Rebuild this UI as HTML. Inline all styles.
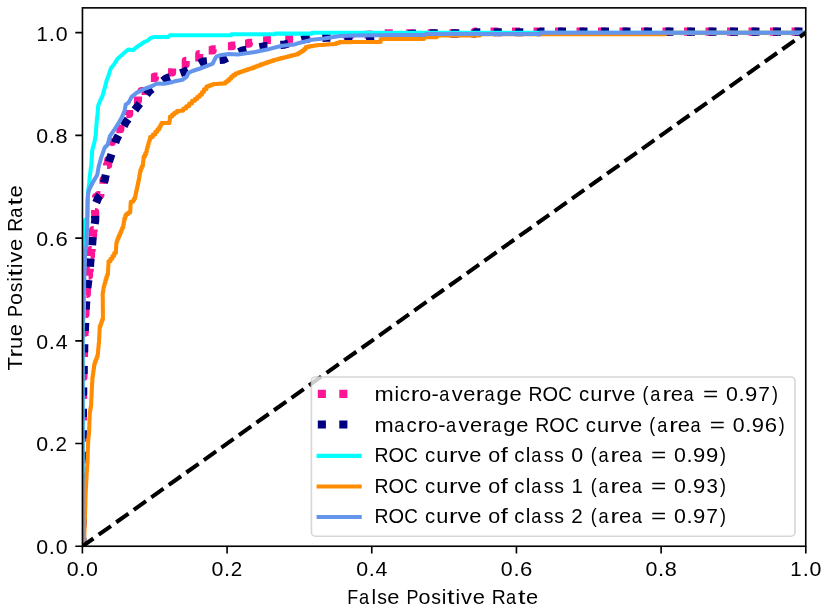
<!DOCTYPE html>
<html><head><meta charset="utf-8"><style>
html,body{margin:0;padding:0;background:#fff;width:827px;height:610px;overflow:hidden}
svg{display:block;will-change:transform;filter:blur(0.3px)}
text{font-family:"Liberation Sans", sans-serif;fill:#000}
</style></head><body>
<svg width="827" height="610" viewBox="0 0 827 610">
<rect width="827" height="610" fill="#fff"/>
<defs><clipPath id="ax"><rect x="82.45" y="7.87" width="723.30" height="538.38"/></clipPath></defs>
<g clip-path="url(#ax)" fill="none" stroke-linejoin="round">

<path d="M82.4,546.3 L82.4,540.8 M82.5,527.5 L82.5,526.5 L82.5,526.5 L82.5,519.8 L82.5,519.8 L82.5,519.5 M82.6,506.1 L82.6,500.0 L82.6,500.0 L82.6,498.0 M82.7,484.7 L82.7,480.0 L82.7,480.0 L82.7,476.6 M82.7,463.3 L82.7,460.0 L82.8,460.0 L82.8,455.2 M82.8,441.8 L82.8,440.0 L82.8,440.0 L82.8,433.8 M82.9,420.4 L82.9,420.0 L82.9,420.0 L82.9,414.0 L83.0,414.0 L83.0,412.4 M83.1,399.1 L83.1,396.0 L83.1,396.0 L83.1,391.1 M83.4,377.9 L83.4,377.1 L83.5,377.1 L83.5,370.7 L83.7,370.7 L83.7,370.1 M84.0,357.0 L84.0,351.4 L84.1,351.4 L84.1,349.1 M84.5,336.1 L84.5,332.7 L84.8,332.7 L84.8,328.2 M85.3,315.3 L85.3,314.2 L85.5,314.2 L85.5,308.0 L85.8,308.0 L85.8,307.7 M86.3,294.9 L86.3,294.0 L86.9,294.0 L86.9,287.3 M88.6,275.7 L89.0,275.7 L89.0,270.0 L89.8,270.0 L89.8,268.7 M90.5,256.0 L91.0,256.0 L91.0,250.0 L91.7,250.0 L91.7,249.1 M92.4,236.4 L92.4,235.5 L93.1,235.5 L93.1,230.0 L93.7,230.0 L93.7,229.6 M95.3,217.8 L95.3,216.0 L95.2,216.0 L95.2,212.0 L95.0,212.0 L95.0,210.0 M96.0,197.6 L96.0,197.0 L98.5,197.0 L98.5,195.0 L100.4,195.0 L100.4,193.9 M103.5,183.7 L103.5,180.0 L104.6,180.0 L104.6,176.6 M107.0,165.6 L107.0,165.0 L108.2,165.0 L108.2,160.0 L109.5,160.0 M111.1,145.4 L111.1,142.1 L111.9,142.1 L111.9,138.0 M116.3,129.2 L120.4,129.2 L120.4,125.1 M126.3,115.1 L126.3,114.0 L129.2,114.0 L129.2,109.9 M133.9,100.5 L138.0,100.5 L138.0,96.4 M141.5,91.5 L141.5,91.0 L145.0,91.0 L145.0,87.0 M150.9,77.9 L154.9,77.9 L154.9,76.5 L157.5,76.5 M168.1,72.4 L172.1,72.4 L172.1,68.4 M181.7,64.3 L185.7,64.3 L185.7,60.9 L186.3,60.9 M195.2,57.5 L199.2,57.5 L199.2,54.0 L199.7,54.0 M208.7,50.4 L212.7,50.4 L212.7,49.3 L215.7,49.3 M227.9,46.2 L231.9,46.2 L231.9,45.5 L235.3,45.5 M245.0,43.6 L249.0,43.6 L249.0,42.8 L252.2,42.8 M263.1,40.3 L267.1,40.3 L267.1,40.0 L270.9,40.0 M285.2,39.1 L289.3,39.1 L289.3,38.8 L293.1,38.8 M302.5,37.8 L306.5,37.8 L306.5,37.1 L309.9,37.1 M323.0,36.2 L326.2,36.2 L326.2,35.8 L330.8,35.8 M343.5,35.2 L345.0,35.2 L345.0,35.1 L351.0,35.1 L351.0,35.0 L351.4,35.0 M364.6,34.7 L369.0,34.7 L369.0,34.6 L372.5,34.6 M384.7,33.4 L386.0,33.4 L386.0,33.4 L392.8,33.4 L392.8,33.4 L392.8,33.4 M406.2,33.4 L406.5,33.4 L406.5,33.4 L413.4,33.4 L413.4,33.4 L414.3,33.4 M427.7,33.4 L433.9,33.4 L433.9,33.4 L435.8,33.4 M449.3,33.4 L454.5,33.4 L454.5,33.4 L457.4,33.4 M470.8,33.4 L475.0,33.4 L475.0,31.6 L476.0,31.6 L476.0,31.6 L477.0,31.6 M490.5,31.6 L496.6,31.6 L496.6,31.6 L498.5,31.6 M512.0,31.6 L517.2,31.6 L517.2,31.6 L520.0,31.6 M533.5,31.6 L537.9,31.6 L537.9,31.6 L541.5,31.6 M555.0,31.6 L558.5,31.6 L558.5,31.6 L563.0,31.6 M576.5,31.6 L579.1,31.6 L579.1,31.6 L584.5,31.6 M598.0,31.6 L599.8,31.6 L599.8,31.6 L606.0,31.6 M619.5,31.6 L620.4,31.6 L620.4,31.6 L627.2,31.6 L627.2,31.6 L627.5,31.6 M641.0,31.6 L641.0,31.6 L641.0,31.6 L647.9,31.6 L647.9,31.6 L649.0,31.6 M662.5,31.6 L668.5,31.6 L668.5,31.6 L670.5,31.6 M684.0,31.6 L689.1,31.6 L689.1,31.6 L692.0,31.6 M705.5,31.6 L709.8,31.6 L709.8,31.6 L713.5,31.6 M727.0,31.6 L730.4,31.6 L730.4,31.6 L735.0,31.6 M748.5,31.6 L751.0,31.6 L751.0,31.6 L756.5,31.6 M770.0,31.6 L771.6,31.6 L771.6,31.6 L778.0,31.6 M791.5,31.6 L792.2,31.6 L792.2,31.6 L799.1,31.6 L799.1,31.6 L799.5,31.6" stroke="#ff1493" stroke-width="8.1" stroke-linecap="butt" fill="none"/>
<path d="M82.4,545.9 L82.4,537.8 M82.5,524.4 L82.5,516.3 M82.6,502.9 L82.6,500.0 L82.6,494.8 M82.7,481.4 L82.7,473.3 M82.8,459.9 L82.8,451.8 M82.8,438.4 L82.9,430.3 M82.9,416.9 L83.0,408.8 M83.1,395.4 L83.2,390.0 L83.3,387.3 M83.6,373.9 L83.8,365.8 M84.1,352.4 L84.3,345.0 L84.3,344.3 M84.9,330.9 L85.2,322.8 M85.7,309.4 L85.8,308.0 L86.3,301.3 M87.4,288.0 L87.5,287.0 L88.4,280.0 M90.0,266.7 L90.3,262.0 L90.7,258.6 M92.1,245.3 L92.4,241.0 L92.8,237.2 M94.7,223.9 L95.3,220.0 L95.1,215.9 M96.2,202.6 L98.5,197.0 L99.9,195.5 M103.9,182.8 L104.6,180.0 L105.8,174.9 M109.0,161.9 L109.5,160.0 L111.5,154.2 M115.3,142.8 L116.6,139.0 L118.5,135.4 M123.8,126.0 L125.7,122.4 L128.1,119.1 M134.9,110.0 L137.3,106.7 L139.8,103.5 M146.5,94.6 L149.3,91.0 L152.2,88.9 M162.8,80.9 L166.0,78.5 L169.8,77.1 M180.5,73.2 L184.3,71.8 L187.9,69.9 M199.4,63.5 L203.0,61.6 L207.0,61.2 M219.6,60.0 L223.6,59.6 L227.2,57.8 M238.9,52.2 L242.5,50.4 L246.5,49.6 M259.5,47.2 L263.5,46.4 L267.5,46.1 M280.4,44.9 L284.4,44.6 L288.3,43.5 M301.6,39.9 L305.5,38.8 L309.5,38.6 M322.4,37.9 L326.4,37.7 L330.4,37.7 M344.4,37.5 L348.4,37.5 L352.4,37.5 M366.1,37.5 L370.1,37.5 L374.1,37.1 M386.8,35.8 L394.8,35.0 M408.2,34.1 L416.3,33.6 M429.7,33.4 L437.8,33.4 M451.2,33.4 L459.3,33.4 M472.7,33.4 L475.0,33.4 L476.0,32.3 L480.3,32.3 M493.7,32.3 L501.8,32.3 M515.2,32.3 L523.3,32.3 M536.7,32.3 L540.0,32.3 L541.0,31.6 L544.5,31.6 M558.0,31.6 L566.0,31.6 M579.5,31.6 L587.5,31.6 M601.0,31.6 L609.0,31.6 M622.5,31.6 L630.5,31.6 M644.0,31.6 L652.0,31.6 M665.5,31.6 L673.5,31.6 M687.0,31.6 L695.0,31.6 M708.5,31.6 L716.5,31.6 M730.0,31.6 L738.0,31.6 M751.5,31.6 L759.5,31.6 M773.0,31.6 L781.0,31.6 M794.5,31.6 L802.5,31.6" stroke="#000080" stroke-width="8.1" stroke-linecap="butt" fill="none"/>
<polyline points="82.4,546.3 82.6,540.0 82.6,330.0 83.8,312.0 84.0,300.0 84.2,250.0 84.4,221.0 87.4,217.5 87.7,200.0 88.3,190.0 89.1,183.9 89.8,176.3 91.3,164.5 92.3,149.8 94.3,142.9 95.7,135.0 96.7,121.3 97.7,112.5 98.2,105.6 100.2,100.7 102.5,96.0 104.9,87.4 106.8,80.0 108.4,75.9 110.2,70.0 111.2,67.9 114.0,64.5 117.5,58.7 121.3,55.5 126.3,51.1 128.2,49.6 133.1,50.1 136.1,47.5 141.0,44.2 144.4,41.8 147.4,40.8 150.9,37.9 154.5,36.9 168.3,36.9 169.8,35.3 231.0,35.3 231.5,34.2 275.0,34.2 275.5,33.6 311.5,33.6 312.0,32.8 806.0,32.8" stroke="#00ffff" stroke-width="4.05" stroke-linecap="square"/>
<polyline points="82.4,546.3 82.4,544.2 83.0,544.2 83.0,542.1 83.6,542.1 83.6,540.0 84.2,540.0 84.2,537.3 84.3,537.3 84.3,534.6 84.4,534.6 84.4,531.9 84.5,531.9 84.5,529.2 84.6,529.2 84.6,526.4 84.6,526.4 84.6,523.7 84.7,523.7 84.7,521.0 84.8,521.0 84.8,518.3 84.9,518.3 84.9,515.6 85.0,515.6 85.0,512.9 85.1,512.9 85.1,510.1 85.2,510.1 85.2,507.4 85.3,507.4 85.3,504.7 85.4,504.7 85.4,501.9 85.4,501.9 85.4,499.2 85.5,499.2 85.5,496.5 85.6,496.5 85.6,493.7 85.7,493.7 85.7,491.0 85.8,491.0 85.8,488.3 86.0,488.3 86.0,485.5 86.1,485.5 86.1,482.8 86.3,482.8 86.3,480.1 86.4,480.1 86.4,477.3 86.6,477.3 86.6,474.6 86.7,474.6 86.7,471.7 86.9,471.7 86.9,468.8 87.1,468.8 87.1,465.9 87.3,465.9 87.3,463.0 87.5,463.0 87.5,460.4 87.6,460.4 87.6,457.8 87.7,457.8 87.7,455.2 87.7,455.2 87.7,452.6 87.8,452.6 87.8,450.0 87.9,450.0 87.9,447.7 88.0,447.7 88.0,445.5 88.1,445.5 88.1,443.2 88.2,443.2 88.2,440.6 88.4,440.6 88.4,437.9 88.6,437.9 88.6,435.3 88.9,435.3 88.9,432.7 89.1,432.7 89.1,430.1 89.2,430.1 89.2,427.4 89.3,427.4 89.3,424.8 89.4,424.8 89.4,422.2 89.5,422.2 89.5,419.6 89.6,419.6 89.6,416.9 89.7,416.9 89.7,414.3 89.8,414.3 89.8,411.7 90.2,411.7 90.2,409.1 90.7,409.1 90.7,406.5 91.1,406.5 91.1,403.9 91.2,403.9 91.2,401.2 91.3,401.2 91.3,398.6 91.5,398.6 91.5,396.0 91.6,396.0 91.6,393.3 91.7,393.3 91.7,390.7 91.8,390.7 91.8,388.1 92.0,388.1 92.0,385.4 92.1,385.4 92.1,382.8 92.3,382.8 92.3,380.2 92.4,380.2 92.4,377.3 92.8,377.3 92.8,374.4 93.2,374.4 93.2,371.4 93.6,371.4 93.6,368.5 94.0,368.5 94.0,365.6 94.4,365.6 94.4,363.3 95.2,363.3 95.2,361.0 96.1,361.0 96.1,358.7 96.9,358.7 96.9,356.4 97.7,356.4 97.7,353.8 98.0,353.8 98.0,351.2 98.2,351.2 98.2,348.5 98.5,348.5 98.5,345.9 98.7,345.9 98.7,343.3 99.0,343.3 99.0,340.4 99.1,340.4 99.1,337.5 99.3,337.5 99.3,334.7 99.4,334.7 99.4,331.8 99.6,331.8 99.6,328.9 99.7,328.9 99.7,326.6 100.5,326.6 100.5,324.3 101.3,324.3 101.3,322.0 102.1,322.0 102.1,319.7 102.9,319.7 102.9,316.9 102.9,316.9 102.9,314.1 102.9,314.1 102.9,311.3 102.9,311.3 102.9,308.4 102.8,308.4 102.8,305.6 102.8,305.6 102.8,302.8 102.8,302.8 102.8,300.0 102.8,300.0 102.8,298.1 102.7,298.1 102.7,296.1 102.6,296.1 102.6,293.8 102.9,293.8 102.9,291.5 103.3,291.5 103.3,289.2 103.6,289.2 103.6,286.9 104.2,286.9 104.2,284.7 104.9,284.7 104.9,282.4 105.5,282.4 105.5,279.8 106.3,279.8 106.3,277.1 107.2,277.1 107.2,274.5 108.0,274.5 108.0,271.8 108.1,271.8 108.1,269.1 108.2,269.1 108.2,266.4 108.4,266.4 108.4,263.7 108.5,263.7 108.5,261.2 110.5,261.2 110.5,258.8 112.4,258.8 112.4,255.9 114.2,255.9 114.2,252.9 115.9,252.9 115.9,250.3 116.0,250.3 116.0,247.6 116.2,247.6 116.2,245.0 116.3,245.0 116.3,243.1 116.8,243.1 116.8,241.2 117.4,241.2 117.4,238.9 118.4,238.9 118.4,236.6 119.4,236.6 119.4,234.3 120.4,234.3 120.4,232.0 121.4,232.0 121.4,229.7 122.3,229.7 122.3,227.4 123.3,227.4 123.3,224.4 123.8,224.4 123.8,221.5 124.3,221.5 124.3,218.6 125.3,218.6 125.3,215.6 126.3,215.6 126.3,214.1 128.2,214.1 128.2,212.6 130.2,212.6 130.2,210.0 130.4,210.0 130.4,207.4 130.5,207.4 130.5,204.8 130.7,204.8 130.7,201.8 133.1,201.8 133.1,200.2 134.1,200.2 134.1,198.6 135.1,198.6 135.1,196.3 135.6,196.3 135.6,194.0 136.0,194.0 136.0,191.8 136.5,191.8 136.5,189.5 137.0,189.5 137.0,187.2 137.5,187.2 137.5,184.9 138.0,184.9 138.0,182.6 138.5,182.6 138.5,180.3 139.0,180.3 139.0,177.7 139.4,177.7 139.4,175.0 139.9,175.0 139.9,172.4 140.3,172.4 140.3,170.2 141.2,170.2 141.2,168.1 142.0,168.1 142.0,165.9 142.9,165.9 142.9,163.7 143.1,163.7 143.1,161.5 143.4,161.5 143.4,159.3 143.6,159.3 143.6,156.7 144.9,156.7 144.9,154.1 146.2,154.1 146.2,151.5 146.9,151.5 146.9,148.8 147.5,148.8 147.5,146.2 148.2,146.2 148.2,144.0 148.8,144.0 148.8,141.9 149.5,141.9 149.5,139.7 150.1,139.7 150.1,137.1 152.8,137.1 152.8,134.4 155.4,134.4 155.4,131.8 157.4,131.8 157.4,129.2 159.3,129.2 159.3,127.1 160.4,127.1 160.4,125.0 161.5,125.0 161.5,122.9 162.6,122.9 162.6,122.9 164.9,122.9 164.9,122.9 167.2,122.9 167.2,122.9 169.5,122.9 169.5,120.7 169.8,120.7 169.8,118.5 170.0,118.5 170.0,116.5 172.2,116.5 172.2,114.5 174.4,114.5 174.4,112.8 176.9,112.8 176.9,111.1 179.4,111.1 179.4,110.8 181.4,110.8 181.4,110.6 183.3,110.6 183.3,108.4 186.2,108.4 186.2,106.2 189.2,106.2 189.2,103.5 192.1,103.5 192.1,100.7 195.1,100.7 195.1,98.7 197.4,98.7 197.4,96.8 199.7,96.8 199.7,94.8 202.0,94.8 202.0,91.9 204.0,91.9 204.0,89.2 206.4,89.2 206.4,86.4 208.8,86.4 208.8,85.6 211.1,85.6 211.1,84.8 213.3,84.8 213.3,84.0 215.6,84.0 215.6,83.9 218.0,83.9 218.0,83.8 220.5,83.8 220.5,83.6 222.9,83.6 222.9,83.5 225.3,83.5 225.3,82.0 227.2,82.0 227.2,80.6 229.2,80.6 229.2,78.7 231.1,78.7 231.1,76.8 233.0,76.8 233.0,75.1 235.4,75.1 235.4,73.4 237.9,73.4 237.9,72.6 240.1,72.6 240.1,71.8 242.4,71.8 242.4,71.0 244.6,71.0 244.6,70.2 247.2,70.2 247.2,69.3 249.8,69.3 249.8,68.5 252.4,68.5 252.4,67.6 255.0,67.6 255.0,66.5 257.8,66.5 257.8,65.4 260.7,65.4 260.7,64.3 263.5,64.3 263.5,63.4 266.0,63.4 266.0,62.6 268.4,62.6 268.4,61.7 270.9,61.7 270.9,60.9 273.3,60.9 273.3,60.0 275.8,60.0 275.8,59.4 278.2,59.4 278.2,58.8 280.7,58.8 280.7,58.1 283.1,58.1 283.1,57.5 285.6,57.5 285.6,56.9 288.0,56.9 288.0,56.3 290.5,56.3 290.5,55.6 293.0,55.6 293.0,55.0 295.4,55.0 295.4,54.4 297.9,54.4 297.9,53.2 299.9,53.2 299.9,52.0 302.0,52.0 302.0,50.8 304.0,50.8 304.0,49.0 305.9,49.0 305.9,47.1 307.7,47.1 307.7,46.6 310.3,46.6 310.3,46.1 312.9,46.1 312.9,45.7 315.5,45.7 315.5,45.2 318.1,45.2 318.1,45.0 320.7,45.0 320.7,44.9 323.3,44.9 323.3,44.7 325.9,44.7 325.9,44.5 328.5,44.5 328.5,44.3 331.1,44.3 331.1,44.2 333.7,44.2 333.7,44.0 336.3,44.0 336.3,43.0 339.3,43.0 339.3,42.1 342.3,42.1 342.3,42.1 345.2,42.1 345.2,42.1 348.2,42.1 348.2,42.1 351.1,42.1 351.1,42.0 354.1,42.0 354.1,42.0 357.0,42.0 357.0,42.0 360.0,42.0 360.0,42.0 362.9,42.0 362.9,42.0 365.9,42.0 365.9,42.0 368.8,42.0 368.8,41.9 371.8,41.9 371.8,41.9 374.7,41.9 374.7,41.9 377.7,41.9 377.7,41.9 380.6,41.9 380.6,38.9 381.0,38.9 381.0,38.9 383.9,38.9 383.9,38.9 386.7,38.9 386.7,38.9 389.6,38.9 389.6,38.9 392.5,38.9 392.5,38.9 395.3,38.9 395.3,38.9 398.2,38.9 398.2,38.9 401.1,38.9 401.1,38.9 403.9,38.9 403.9,38.9 406.8,38.9 406.8,38.9 409.7,38.9 409.7,38.9 412.5,38.9 412.5,38.9 415.4,38.9 415.4,38.9 418.3,38.9 418.3,38.9 421.1,38.9 421.1,38.9 424.0,38.9 424.0,37.1 424.5,37.1 424.5,37.1 427.0,37.1 427.0,37.1 429.5,37.1 429.5,37.1 432.0,37.1 432.0,37.1 434.5,37.1 434.5,37.1 437.0,37.1 437.0,35.5 437.5,35.5 437.5,35.5 440.3,35.5 440.3,35.5 443.2,35.5 443.2,35.5 446.0,35.5 446.0,35.5 448.8,35.5 448.8,35.5 451.7,35.5 451.7,35.5 454.5,35.5 454.5,35.5 457.3,35.5 457.3,35.5 460.2,35.5 460.2,35.5 463.0,35.5 463.0,35.5 465.8,35.5 465.8,35.5 468.7,35.5 468.7,35.5 471.5,35.5 471.5,35.5 474.3,35.5 474.3,35.5 477.2,35.5 477.2,35.5 480.0,35.5 480.0,34.3 480.5,34.3 480.5,34.3 483.5,34.3 483.5,34.3 486.5,34.3 486.5,34.3 489.4,34.3 489.4,34.3 492.4,34.3 492.4,34.3 495.4,34.3 495.4,34.3 498.4,34.3 498.4,34.3 501.4,34.3 501.4,34.3 504.3,34.3 504.3,34.3 507.3,34.3 507.3,34.3 510.3,34.3 510.3,34.3 513.3,34.3 513.3,34.3 516.3,34.3 516.3,34.3 519.2,34.3 519.2,34.3 522.2,34.3 522.2,34.3 525.2,34.3 525.2,34.3 528.2,34.3 528.2,34.3 531.2,34.3 531.2,34.3 534.2,34.3 534.2,34.3 537.1,34.3 537.1,34.3 540.1,34.3 540.1,34.3 543.1,34.3 543.1,34.3 546.1,34.3 546.1,34.3 549.1,34.3 549.1,34.3 552.0,34.3 552.0,34.3 555.0,34.3 555.0,34.3 558.0,34.3 558.0,34.3 561.0,34.3 561.0,34.3 564.0,34.3 564.0,34.3 566.9,34.3 566.9,34.3 569.9,34.3 569.9,34.3 572.9,34.3 572.9,34.3 575.9,34.3 575.9,34.3 578.9,34.3 578.9,34.3 581.8,34.3 581.8,34.3 584.8,34.3 584.8,34.3 587.8,34.3 587.8,34.3 590.8,34.3 590.8,34.3 593.8,34.3 593.8,34.3 596.7,34.3 596.7,34.3 599.7,34.3 599.7,34.3 602.7,34.3 602.7,34.3 605.7,34.3 605.7,34.3 608.7,34.3 608.7,34.3 611.6,34.3 611.6,34.3 614.6,34.3 614.6,34.3 617.6,34.3 617.6,34.3 620.6,34.3 620.6,34.3 623.6,34.3 623.6,34.3 626.6,34.3 626.6,34.3 629.5,34.3 629.5,34.3 632.5,34.3 632.5,34.3 635.5,34.3 635.5,34.3 638.5,34.3 638.5,34.3 641.5,34.3 641.5,34.3 644.4,34.3 644.4,34.3 647.4,34.3 647.4,34.3 650.4,34.3 650.4,34.3 653.4,34.3 653.4,34.3 656.4,34.3 656.4,34.3 659.3,34.3 659.3,34.3 662.3,34.3 662.3,34.3 665.3,34.3 665.3,32.8 665.8,32.8 665.8,32.8 668.8,32.8 668.8,32.8 671.8,32.8 671.8,32.8 674.7,32.8 674.7,32.8 677.7,32.8 677.7,32.8 680.7,32.8 680.7,32.8 683.7,32.8 683.7,32.8 686.7,32.8 686.7,32.8 689.7,32.8 689.7,32.8 692.6,32.8 692.6,32.8 695.6,32.8 695.6,32.8 698.6,32.8 698.6,32.8 701.6,32.8 701.6,32.8 704.6,32.8 704.6,32.8 707.6,32.8 707.6,32.8 710.5,32.8 710.5,32.8 713.5,32.8 713.5,32.8 716.5,32.8 716.5,32.8 719.5,32.8 719.5,32.8 722.5,32.8 722.5,32.8 725.5,32.8 725.5,32.8 728.4,32.8 728.4,32.8 731.4,32.8 731.4,32.8 734.4,32.8 734.4,32.8 737.4,32.8 737.4,32.8 740.4,32.8 740.4,32.8 743.4,32.8 743.4,32.8 746.3,32.8 746.3,32.8 749.3,32.8 749.3,32.8 752.3,32.8 752.3,32.8 755.3,32.8 755.3,32.8 758.3,32.8 758.3,32.8 761.3,32.8 761.3,32.8 764.2,32.8 764.2,32.8 767.2,32.8 767.2,32.8 770.2,32.8 770.2,32.8 773.2,32.8 773.2,32.8 776.2,32.8 776.2,32.8 779.2,32.8 779.2,32.8 782.1,32.8 782.1,32.8 785.1,32.8 785.1,32.8 788.1,32.8 788.1,32.8 791.1,32.8 791.1,32.8 794.1,32.8 794.1,32.8 797.1,32.8 797.1,32.8 800.0,32.8 800.0,32.8 803.0,32.8 803.0,32.8 806.0,32.8" stroke="#ff8c00" stroke-width="4.05" stroke-linecap="square"/>
<polyline points="82.4,546.3 82.6,540.0 82.6,330.0 82.9,315.0 83.6,295.0 84.4,272.0 84.9,262.0 85.3,250.0 86.7,245.0 86.7,235.0 87.3,225.0 87.6,200.0 88.0,194.2 89.1,189.8 92.8,182.4 97.2,175.0 98.7,166.5 101.2,157.6 104.6,147.8 107.6,144.8 109.9,136.2 113.9,130.3 117.8,124.4 121.7,117.5 124.7,110.6 125.7,104.7 128.6,102.7 131.6,96.8 136.5,92.9 144.4,88.9 152.2,86.0 156.9,83.5 164.3,83.8 171.7,82.3 175.0,81.2 182.7,79.7 186.6,76.8 188.5,72.9 192.4,71.0 200.1,68.5 207.9,65.6 212.7,63.7 214.7,59.3 216.6,56.4 221.4,55.0 229.2,54.0 237.9,54.5 244.6,53.5 255.0,52.1 269.6,48.9 281.9,45.8 294.2,44.6 300.0,42.7 312.0,39.7 324.2,38.5 339.9,36.1 354.4,35.5 400.0,34.9 424.6,35.0 426.3,34.0 540.0,34.0 540.5,32.8 806.0,32.8" stroke="#6495ed" stroke-width="4.05" stroke-linecap="square"/>
<line x1="82.40" y1="546.30" x2="805.80" y2="32.60" stroke="#000" stroke-width="4.05" stroke-dasharray="15 6.5" stroke-dashoffset="1.5" stroke-linecap="butt"/>
</g>
<rect x="82.45" y="7.87" width="723.30" height="538.38" fill="none" stroke="#000" stroke-width="1.62"/>
<path d="M82.40,546.30v7.1 M82.40,546.30h-7.1 M227.08,546.30v7.1 M82.40,443.56h-7.1 M371.76,546.30v7.1 M82.40,340.82h-7.1 M516.44,546.30v7.1 M82.40,238.08h-7.1 M661.12,546.30v7.1 M82.40,135.34h-7.1 M805.80,546.30v7.1 M82.40,32.60h-7.1" stroke="#000" stroke-width="1.62" fill="none"/>
<rect x="311.4" y="377.0" width="483.6" height="159.2" rx="4" ry="4" fill="#fff" fill-opacity="0.8" stroke="#cccccc" stroke-opacity="0.8" stroke-width="1.62"/>
<line x1="317.8" y1="393.85" x2="358.3" y2="393.85" stroke="#ff1493" stroke-width="8.1" stroke-dasharray="8.1 13.4" stroke-linecap="butt"/>
<line x1="317.8" y1="424.45000000000005" x2="358.3" y2="424.45000000000005" stroke="#000080" stroke-width="8.1" stroke-dasharray="8.1 13.4" stroke-linecap="butt"/>
<line x1="318.6" y1="455.85" x2="359.7" y2="455.85" stroke="#00ffff" stroke-width="4.05" stroke-linecap="square"/>
<line x1="318.6" y1="486.45" x2="359.7" y2="486.45" stroke="#ff8c00" stroke-width="4.05" stroke-linecap="square"/>
<line x1="318.6" y1="517.05" x2="359.7" y2="517.05" stroke="#6495ed" stroke-width="4.05" stroke-linecap="square"/>
<g font-size="21.00"><text transform="matrix(1.017 0 0 1 66.78 575.60)">0</text>
<text transform="matrix(1.044 0 0 1 79.34 575.60)">.</text>
<text transform="matrix(1.017 0 0 1 86.12 575.60)">0</text>
<text transform="matrix(1.017 0 0 1 36.30 554.20)">0</text>
<text transform="matrix(1.044 0 0 1 48.86 554.20)">.</text>
<text transform="matrix(1.017 0 0 1 55.64 554.20)">0</text>
<text transform="matrix(1.017 0 0 1 211.46 575.60)">0</text>
<text transform="matrix(1.044 0 0 1 224.02 575.60)">.</text>
<text transform="matrix(0.981 0 0 1 230.75 575.60)">2</text>
<text transform="matrix(1.017 0 0 1 36.30 451.46)">0</text>
<text transform="matrix(1.044 0 0 1 48.86 451.46)">.</text>
<text transform="matrix(0.981 0 0 1 55.59 451.46)">2</text>
<text transform="matrix(1.017 0 0 1 356.14 575.60)">0</text>
<text transform="matrix(1.044 0 0 1 368.70 575.60)">.</text>
<text transform="matrix(1.018 0 0 1 375.48 575.60)">4</text>
<text transform="matrix(1.017 0 0 1 36.30 348.72)">0</text>
<text transform="matrix(1.044 0 0 1 48.86 348.72)">.</text>
<text transform="matrix(1.018 0 0 1 55.64 348.72)">4</text>
<text transform="matrix(1.017 0 0 1 500.82 575.60)">0</text>
<text transform="matrix(1.044 0 0 1 513.38 575.60)">.</text>
<text transform="matrix(1.053 0 0 1 519.95 575.60)">6</text>
<text transform="matrix(1.017 0 0 1 36.30 245.98)">0</text>
<text transform="matrix(1.044 0 0 1 48.86 245.98)">.</text>
<text transform="matrix(1.053 0 0 1 55.43 245.98)">6</text>
<text transform="matrix(1.017 0 0 1 645.50 575.60)">0</text>
<text transform="matrix(1.044 0 0 1 658.06 575.60)">.</text>
<text transform="matrix(1.029 0 0 1 664.78 575.60)">8</text>
<text transform="matrix(1.017 0 0 1 36.30 143.24)">0</text>
<text transform="matrix(1.044 0 0 1 48.86 143.24)">.</text>
<text transform="matrix(1.029 0 0 1 55.58 143.24)">8</text>
<text transform="matrix(0.972 0 0 1 790.35 575.60)">1</text>
<text transform="matrix(1.044 0 0 1 802.74 575.60)">.</text>
<text transform="matrix(1.017 0 0 1 809.52 575.60)">0</text>
<text transform="matrix(0.972 0 0 1 36.47 40.50)">1</text>
<text transform="matrix(1.044 0 0 1 48.86 40.50)">.</text>
<text transform="matrix(1.017 0 0 1 55.64 40.50)">0</text>
<text transform="matrix(0.850 0 0 1 347.31 603.60)">F</text>
<text transform="matrix(0.868 0 0 1 359.00 603.60)">a</text>
<text transform="matrix(0.987 0 0 1 371.49 603.60)">l</text>
<text transform="matrix(0.925 0 0 1 377.17 603.60)">s</text>
<text transform="matrix(1.043 0 0 1 387.36 603.60)">e</text>
<text transform="matrix(0.854 0 0 1 406.61 603.60)">P</text>
<text transform="matrix(1.026 0 0 1 418.52 603.60)">o</text>
<text transform="matrix(0.925 0 0 1 431.27 603.60)">s</text>
<text transform="matrix(0.987 0 0 1 441.80 603.60)">i</text>
<text transform="matrix(1.290 0 0 1 447.04 603.60)">t</text>
<text transform="matrix(0.987 0 0 1 455.38 603.60)">i</text>
<text transform="matrix(1.042 0 0 1 461.01 603.60)">v</text>
<text transform="matrix(1.043 0 0 1 472.67 603.60)">e</text>
<text transform="matrix(0.923 0 0 1 491.79 603.60)">R</text>
<text transform="matrix(0.868 0 0 1 505.92 603.60)">a</text>
<text transform="matrix(1.290 0 0 1 518.03 603.60)">t</text>
<text transform="matrix(1.043 0 0 1 526.03 603.60)">e</text>
<text transform="matrix(0 -1.053 1 0 22.20 370.56)">T</text>
<text transform="matrix(0 -1.237 1 0 22.20 357.50)">r</text>
<text transform="matrix(0 -1.041 1 0 22.20 348.98)">u</text>
<text transform="matrix(0 -1.043 1 0 22.20 336.25)">e</text>
<text transform="matrix(0 -0.854 1 0 22.20 317.00)">P</text>
<text transform="matrix(0 -1.026 1 0 22.20 305.09)">o</text>
<text transform="matrix(0 -0.925 1 0 22.20 292.34)">s</text>
<text transform="matrix(0 -0.987 1 0 22.20 281.81)">i</text>
<text transform="matrix(0 -1.290 1 0 22.20 276.57)">t</text>
<text transform="matrix(0 -0.987 1 0 22.20 268.23)">i</text>
<text transform="matrix(0 -1.042 1 0 22.20 262.60)">v</text>
<text transform="matrix(0 -1.043 1 0 22.20 250.94)">e</text>
<text transform="matrix(0 -0.923 1 0 22.20 231.82)">R</text>
<text transform="matrix(0 -0.868 1 0 22.20 217.69)">a</text>
<text transform="matrix(0 -1.290 1 0 22.20 205.58)">t</text>
<text transform="matrix(0 -1.043 1 0 22.20 197.58)">e</text>
<text transform="matrix(1.100 0 0 1 374.46 401.00)">m</text>
<text transform="matrix(0.987 0 0 1 394.42 401.00)">i</text>
<text transform="matrix(0.969 0 0 1 399.78 401.00)">c</text>
<text transform="matrix(1.237 0 0 1 410.79 401.00)">r</text>
<text transform="matrix(1.026 0 0 1 419.22 401.00)">o</text>
<text transform="matrix(1.041 0 0 1 431.43 401.00)">-</text>
<text transform="matrix(0.868 0 0 1 439.16 401.00)">a</text>
<text transform="matrix(1.042 0 0 1 451.67 401.00)">v</text>
<text transform="matrix(1.043 0 0 1 463.33 401.00)">e</text>
<text transform="matrix(1.237 0 0 1 475.73 401.00)">r</text>
<text transform="matrix(0.868 0 0 1 484.39 401.00)">a</text>
<text transform="matrix(1.049 0 0 1 496.56 401.00)">g</text>
<text transform="matrix(1.043 0 0 1 509.42 401.00)">e</text>
<text transform="matrix(0.923 0 0 1 528.54 401.00)">R</text>
<text transform="matrix(0.954 0 0 1 542.42 401.00)">O</text>
<text transform="matrix(0.896 0 0 1 558.37 401.00)">C</text>
<text transform="matrix(0.969 0 0 1 579.03 401.00)">c</text>
<text transform="matrix(1.041 0 0 1 590.23 401.00)">u</text>
<text transform="matrix(1.237 0 0 1 602.89 401.00)">r</text>
<text transform="matrix(1.042 0 0 1 611.63 401.00)">v</text>
<text transform="matrix(1.043 0 0 1 623.29 401.00)">e</text>
<text transform="matrix(0.850 0 0 1 642.56 401.00)">(</text>
<text transform="matrix(0.868 0 0 1 650.37 401.00)">a</text>
<text transform="matrix(1.237 0 0 1 662.46 401.00)">r</text>
<text transform="matrix(1.043 0 0 1 670.87 401.00)">e</text>
<text transform="matrix(0.868 0 0 1 683.59 401.00)">a</text>
<text transform="matrix(1.244 0 0 1 702.89 401.00)">=</text>
<text transform="matrix(1.017 0 0 1 725.94 401.00)">0</text>
<text transform="matrix(1.044 0 0 1 738.50 401.00)">.</text>
<text transform="matrix(1.051 0 0 1 745.02 401.00)">9</text>
<text transform="matrix(0.995 0 0 1 758.27 401.00)">7</text>
<text transform="matrix(0.850 0 0 1 772.00 401.00)">)</text>
<text transform="matrix(1.100 0 0 1 374.46 431.60)">m</text>
<text transform="matrix(0.868 0 0 1 394.34 431.60)">a</text>
<text transform="matrix(0.969 0 0 1 406.57 431.60)">c</text>
<text transform="matrix(1.237 0 0 1 417.58 431.60)">r</text>
<text transform="matrix(1.026 0 0 1 426.01 431.60)">o</text>
<text transform="matrix(1.041 0 0 1 438.22 431.60)">-</text>
<text transform="matrix(0.868 0 0 1 445.95 431.60)">a</text>
<text transform="matrix(1.042 0 0 1 458.46 431.60)">v</text>
<text transform="matrix(1.043 0 0 1 470.12 431.60)">e</text>
<text transform="matrix(1.237 0 0 1 482.51 431.60)">r</text>
<text transform="matrix(0.868 0 0 1 491.18 431.60)">a</text>
<text transform="matrix(1.049 0 0 1 503.35 431.60)">g</text>
<text transform="matrix(1.043 0 0 1 516.21 431.60)">e</text>
<text transform="matrix(0.923 0 0 1 535.33 431.60)">R</text>
<text transform="matrix(0.954 0 0 1 549.21 431.60)">O</text>
<text transform="matrix(0.896 0 0 1 565.16 431.60)">C</text>
<text transform="matrix(0.969 0 0 1 585.82 431.60)">c</text>
<text transform="matrix(1.041 0 0 1 597.02 431.60)">u</text>
<text transform="matrix(1.237 0 0 1 609.68 431.60)">r</text>
<text transform="matrix(1.042 0 0 1 618.42 431.60)">v</text>
<text transform="matrix(1.043 0 0 1 630.08 431.60)">e</text>
<text transform="matrix(0.850 0 0 1 649.34 431.60)">(</text>
<text transform="matrix(0.868 0 0 1 657.16 431.60)">a</text>
<text transform="matrix(1.237 0 0 1 669.25 431.60)">r</text>
<text transform="matrix(1.043 0 0 1 677.66 431.60)">e</text>
<text transform="matrix(0.868 0 0 1 690.38 431.60)">a</text>
<text transform="matrix(1.244 0 0 1 709.68 431.60)">=</text>
<text transform="matrix(1.017 0 0 1 732.73 431.60)">0</text>
<text transform="matrix(1.044 0 0 1 745.29 431.60)">.</text>
<text transform="matrix(1.051 0 0 1 751.81 431.60)">9</text>
<text transform="matrix(1.053 0 0 1 764.76 431.60)">6</text>
<text transform="matrix(0.850 0 0 1 778.79 431.60)">)</text>
<text transform="matrix(0.923 0 0 1 374.55 462.10)">R</text>
<text transform="matrix(0.954 0 0 1 388.42 462.10)">O</text>
<text transform="matrix(0.896 0 0 1 404.37 462.10)">C</text>
<text transform="matrix(0.969 0 0 1 425.04 462.10)">c</text>
<text transform="matrix(1.041 0 0 1 436.23 462.10)">u</text>
<text transform="matrix(1.237 0 0 1 448.89 462.10)">r</text>
<text transform="matrix(1.042 0 0 1 457.64 462.10)">v</text>
<text transform="matrix(1.043 0 0 1 469.29 462.10)">e</text>
<text transform="matrix(1.026 0 0 1 488.23 462.10)">o</text>
<text transform="matrix(1.267 0 0 1 500.51 462.10)">f</text>
<text transform="matrix(0.969 0 0 1 514.26 462.10)">c</text>
<text transform="matrix(0.987 0 0 1 525.66 462.10)">l</text>
<text transform="matrix(0.868 0 0 1 531.22 462.10)">a</text>
<text transform="matrix(0.925 0 0 1 543.76 462.10)">s</text>
<text transform="matrix(0.925 0 0 1 554.32 462.10)">s</text>
<text transform="matrix(1.017 0 0 1 571.26 462.10)">0</text>
<text transform="matrix(0.850 0 0 1 590.64 462.10)">(</text>
<text transform="matrix(0.868 0 0 1 598.45 462.10)">a</text>
<text transform="matrix(1.237 0 0 1 610.55 462.10)">r</text>
<text transform="matrix(1.043 0 0 1 618.95 462.10)">e</text>
<text transform="matrix(0.868 0 0 1 631.68 462.10)">a</text>
<text transform="matrix(1.244 0 0 1 650.97 462.10)">=</text>
<text transform="matrix(1.017 0 0 1 674.03 462.10)">0</text>
<text transform="matrix(1.044 0 0 1 686.59 462.10)">.</text>
<text transform="matrix(1.051 0 0 1 693.11 462.10)">9</text>
<text transform="matrix(1.051 0 0 1 706.01 462.10)">9</text>
<text transform="matrix(0.850 0 0 1 720.08 462.10)">)</text>
<text transform="matrix(0.923 0 0 1 374.55 492.70)">R</text>
<text transform="matrix(0.954 0 0 1 388.42 492.70)">O</text>
<text transform="matrix(0.896 0 0 1 404.37 492.70)">C</text>
<text transform="matrix(0.969 0 0 1 425.04 492.70)">c</text>
<text transform="matrix(1.041 0 0 1 436.23 492.70)">u</text>
<text transform="matrix(1.237 0 0 1 448.89 492.70)">r</text>
<text transform="matrix(1.042 0 0 1 457.64 492.70)">v</text>
<text transform="matrix(1.043 0 0 1 469.29 492.70)">e</text>
<text transform="matrix(1.026 0 0 1 488.23 492.70)">o</text>
<text transform="matrix(1.267 0 0 1 500.51 492.70)">f</text>
<text transform="matrix(0.969 0 0 1 514.26 492.70)">c</text>
<text transform="matrix(0.987 0 0 1 525.66 492.70)">l</text>
<text transform="matrix(0.868 0 0 1 531.22 492.70)">a</text>
<text transform="matrix(0.925 0 0 1 543.76 492.70)">s</text>
<text transform="matrix(0.925 0 0 1 554.32 492.70)">s</text>
<text transform="matrix(0.972 0 0 1 571.44 492.70)">1</text>
<text transform="matrix(0.850 0 0 1 590.64 492.70)">(</text>
<text transform="matrix(0.868 0 0 1 598.45 492.70)">a</text>
<text transform="matrix(1.237 0 0 1 610.55 492.70)">r</text>
<text transform="matrix(1.043 0 0 1 618.95 492.70)">e</text>
<text transform="matrix(0.868 0 0 1 631.68 492.70)">a</text>
<text transform="matrix(1.244 0 0 1 650.97 492.70)">=</text>
<text transform="matrix(1.017 0 0 1 674.03 492.70)">0</text>
<text transform="matrix(1.044 0 0 1 686.59 492.70)">.</text>
<text transform="matrix(1.051 0 0 1 693.11 492.70)">9</text>
<text transform="matrix(0.977 0 0 1 706.53 492.70)">3</text>
<text transform="matrix(0.850 0 0 1 720.08 492.70)">)</text>
<text transform="matrix(0.923 0 0 1 374.55 523.30)">R</text>
<text transform="matrix(0.954 0 0 1 388.42 523.30)">O</text>
<text transform="matrix(0.896 0 0 1 404.37 523.30)">C</text>
<text transform="matrix(0.969 0 0 1 425.04 523.30)">c</text>
<text transform="matrix(1.041 0 0 1 436.23 523.30)">u</text>
<text transform="matrix(1.237 0 0 1 448.89 523.30)">r</text>
<text transform="matrix(1.042 0 0 1 457.64 523.30)">v</text>
<text transform="matrix(1.043 0 0 1 469.29 523.30)">e</text>
<text transform="matrix(1.026 0 0 1 488.23 523.30)">o</text>
<text transform="matrix(1.267 0 0 1 500.51 523.30)">f</text>
<text transform="matrix(0.969 0 0 1 514.26 523.30)">c</text>
<text transform="matrix(0.987 0 0 1 525.66 523.30)">l</text>
<text transform="matrix(0.868 0 0 1 531.22 523.30)">a</text>
<text transform="matrix(0.925 0 0 1 543.76 523.30)">s</text>
<text transform="matrix(0.925 0 0 1 554.32 523.30)">s</text>
<text transform="matrix(0.981 0 0 1 571.21 523.30)">2</text>
<text transform="matrix(0.850 0 0 1 590.64 523.30)">(</text>
<text transform="matrix(0.868 0 0 1 598.45 523.30)">a</text>
<text transform="matrix(1.237 0 0 1 610.55 523.30)">r</text>
<text transform="matrix(1.043 0 0 1 618.95 523.30)">e</text>
<text transform="matrix(0.868 0 0 1 631.68 523.30)">a</text>
<text transform="matrix(1.244 0 0 1 650.97 523.30)">=</text>
<text transform="matrix(1.017 0 0 1 674.03 523.30)">0</text>
<text transform="matrix(1.044 0 0 1 686.59 523.30)">.</text>
<text transform="matrix(1.051 0 0 1 693.11 523.30)">9</text>
<text transform="matrix(0.995 0 0 1 706.36 523.30)">7</text>
<text transform="matrix(0.850 0 0 1 720.08 523.30)">)</text></g>
</svg></body></html>
